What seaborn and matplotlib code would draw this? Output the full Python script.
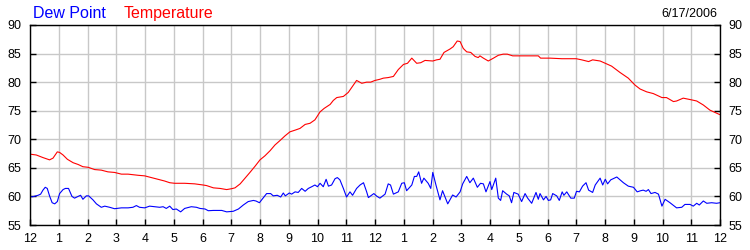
import matplotlib
matplotlib.use("Agg")
import matplotlib.pyplot as plt
import seaborn as sns

# ---- data (hours after midnight, degrees F) ----
temp_hours = [0, 0.22, 0.45, 0.68, 0.80, 0.95, 1.03, 1.15, 1.30, 1.50, 1.67, 1.84, 2.02, 2.25, 2.48, 2.71,
              2.94, 3.18, 3.41, 3.76, 3.99, 4.22, 4.45, 4.68, 4.86, 5.03, 5.38, 5.73, 6.02, 6.14, 6.38, 6.61,
              6.84, 7.01, 7.13, 7.31, 7.48, 7.65, 7.83, 8.0, 8.17, 8.35, 8.52, 8.70, 8.87, 9.04, 9.22, 9.39,
              9.57, 9.74, 9.91, 10.09, 10.23, 10.44, 10.55, 10.67, 10.90, 11.07, 11.25, 11.36, 11.54, 11.71,
              11.85, 12.0, 12.17, 12.29, 12.46, 12.64, 12.81, 12.99, 13.13, 13.28, 13.45, 13.59, 13.74, 14.01,
              14.14, 14.26, 14.40, 14.61, 14.72, 14.86, 14.96, 15.07, 15.19, 15.33, 15.48, 15.59, 15.65, 15.77,
              15.94, 16.12, 16.29, 16.46, 16.60, 16.79, 17.04, 17.68, 17.76, 18.09, 18.5, 19.0, 19.19, 19.43,
              19.57, 19.83, 20.01, 20.23, 20.52, 20.81, 21.04, 21.22, 21.45, 21.68, 21.98, 22.14, 22.38, 22.49,
              22.72, 23.01, 23.19, 23.42, 23.65, 24.0]
temp_values = [67.4, 67.25, 66.8, 66.4, 66.7, 67.8, 67.7, 67.25, 66.5, 65.9, 65.6, 65.2, 65.1, 64.7, 64.6, 64.3,
               64.2, 63.9, 63.9, 63.7, 63.6, 63.3, 63.0, 62.7, 62.4, 62.3, 62.3, 62.2, 62.0, 61.9, 61.5, 61.4,
               61.2, 61.35, 61.5, 62.2, 63.2, 64.2, 65.3, 66.4, 67.1, 68.0, 69.0, 69.8, 70.6, 71.3, 71.6, 71.9,
               72.6, 72.8, 73.4, 74.8, 75.4, 76.1, 76.8, 77.3, 77.5, 78.2, 79.5, 80.3, 79.8, 80.0,
               80.0, 80.3, 80.5, 80.7, 80.8, 81.0, 82.2, 83.1, 83.3, 84.2, 83.3, 83.4, 83.8, 83.7,
               83.9, 84.0, 85.2, 85.8, 86.2, 87.2, 87.1, 85.9, 85.3, 85.2, 84.5, 84.3, 84.6, 84.2,
               83.7, 84.2, 84.7, 84.9, 84.9, 84.6, 84.6, 84.6, 84.2, 84.2, 84.1, 84.1, 83.9, 83.6,
               83.9, 83.7, 83.3, 82.8, 81.7, 80.7, 79.5, 78.8, 78.3, 78.0, 77.3, 77.3, 76.6, 76.7,
               77.2, 76.9, 76.7, 76.0, 75.1, 74.3]

dew_hours = [0, 0.10, 0.28, 0.37, 0.45, 0.53, 0.60, 0.68, 0.77, 0.86, 0.95, 1.03, 1.15, 1.23, 1.34, 1.46,
             1.55, 1.67, 1.76, 1.84, 1.96, 2.04, 2.19, 2.31, 2.48, 2.60, 2.77, 2.94, 3.18, 3.41, 3.58, 3.70,
             3.81, 3.99, 4.16, 4.34, 4.51, 4.63, 4.74, 4.86, 4.97, 5.09, 5.24, 5.38, 5.61, 5.79, 5.91, 6.09,
             6.20, 6.38, 6.67, 6.84, 7.07, 7.25, 7.42, 7.59, 7.77, 7.86, 7.98, 8.12, 8.23, 8.37, 8.46, 8.60,
             8.72, 8.81, 8.88, 9.02, 9.10, 9.22, 9.33, 9.45, 9.57, 9.68, 9.80, 9.91, 10.0, 10.09, 10.20, 10.30,
             10.38, 10.49, 10.61, 10.69, 10.78, 10.90, 11.01, 11.13, 11.22, 11.36, 11.48, 11.60, 11.71, 11.77,
             11.88, 11.96, 12.06, 12.17, 12.35, 12.46, 12.54, 12.64, 12.81, 12.93, 13.02, 13.10, 13.28, 13.37,
             13.45, 13.52, 13.62, 13.70, 13.85, 13.94, 14.01, 14.12, 14.26, 14.35, 14.53, 14.70, 14.82, 14.96,
             15.05, 15.19, 15.30, 15.42, 15.56, 15.67, 15.77, 15.86, 16.00, 16.06, 16.20, 16.29, 16.37, 16.44,
             16.58, 16.67, 16.75, 16.83, 16.98, 17.10, 17.22, 17.31, 17.45, 17.60, 17.68, 17.74, 17.86, 17.95,
             18.03, 18.11, 18.18, 18.32, 18.41, 18.51, 18.57, 18.67, 18.81, 18.93, 19.01, 19.11, 19.22, 19.34,
             19.43, 19.57, 19.66, 19.83, 19.92, 20.01, 20.09, 20.20, 20.41, 20.64, 20.81, 20.99, 21.12, 21.24,
             21.33, 21.43, 21.51, 21.60, 21.74, 21.86, 21.98, 22.09, 22.26, 22.49, 22.67, 22.78, 22.96, 23.07,
             23.19, 23.28, 23.42, 23.54, 23.71, 23.88, 24.0]
dew_values = [59.95, 59.95, 60.2, 60.4, 61.1, 61.6, 61.4, 60.1, 58.9, 58.7, 59.1, 60.5, 61.2, 61.4, 61.4, 60.0,
              59.7, 60.0, 60.2, 59.5, 60.1, 60.1, 59.4, 58.7, 58.1, 58.3, 58.1, 57.85, 58.0, 58.0, 58.1, 58.4,
              58.1, 58.0, 58.3, 58.2, 58.1, 58.2, 57.9, 58.3, 57.7, 57.8, 57.3, 57.9, 58.2, 58.1, 57.9, 57.8,
              57.5, 57.55, 57.55, 57.3, 57.4, 57.8, 58.5, 59.1, 59.3, 59.2, 58.9, 59.8, 60.5, 60.5, 60.1, 60.2,
              59.9, 60.6, 60.1, 60.6, 60.4, 60.8, 60.7, 61.4, 60.9, 61.4, 61.7, 62.0, 61.7, 62.3, 61.7, 63.0,
              61.8, 62.0, 63.1, 63.3, 62.9, 61.4, 59.9, 60.8, 60.2, 61.4, 62.0, 62.4, 60.8, 59.8,
              60.2, 60.5, 60.05, 59.7, 60.4, 62.2, 62.0, 60.4, 60.8, 62.3, 62.4, 61.0, 62.0, 63.5,
              63.5, 64.3, 62.3, 63.2, 62.3, 61.4, 64.2, 62.0, 59.4, 61.0, 58.7, 60.25, 59.9, 60.8,
              62.2, 63.5, 62.4, 63.2, 61.6, 62.3, 62.2, 60.8, 62.6, 61.2, 63.2, 59.7, 59.3, 61.0,
              60.4, 60.1, 58.9, 60.7, 60.4, 59.1, 60.5, 59.7, 58.8, 60.7, 59.5, 60.5, 59.4, 60.0,
              59.3, 59.4, 60.5, 60.1, 59.3, 60.8, 60.2, 60.8, 59.7, 59.7, 60.9, 60.8, 61.8, 62.4,
              61.1, 60.7, 62.0, 63.2, 62.0, 63.0, 62.2, 62.9, 63.4, 62.4, 61.8, 61.6, 60.8, 61.0,
              61.1, 60.9, 61.2, 60.5, 60.7, 60.4, 58.3, 59.5, 58.9, 58.0, 58.1, 58.6, 58.6, 58.3,
              58.8, 58.5, 59.2, 58.8, 58.9, 58.8, 58.9]

hour_ticks = list(range(25))
hour_labels = ["12", "1", "2", "3", "4", "5", "6", "7", "8", "9", "10", "11",
               "12", "1", "2", "3", "4", "5", "6", "7", "8", "9", "10", "11", "12"]
y_ticks = [55, 60, 65, 70, 75, 80, 85, 90]
series_names = ["Dew Point", "Temperature"]
date_label = "6/17/2006"

# ---- drawing ----
sns.set_theme(style="white")
plt.rcParams['font.family'] = ['Liberation Sans', 'DejaVu Sans']

fig = plt.figure(figsize=(7.5, 2.5), dpi=100)
ax = fig.add_axes([30 / 750, 25 / 250, 690 / 750, 200 / 250])

sns.lineplot(x=dew_hours, y=dew_values, color="#0000ff", linewidth=0.8,
             estimator=None, sort=False, ax=ax)
sns.lineplot(x=temp_hours, y=temp_values, color="#ff0000", linewidth=0.8,
             estimator=None, sort=False, ax=ax)

ax.set_xlim(0, 24)
ax.set_ylim(55, 90)
ax.set_xticks(hour_ticks)
ax.set_xticklabels(hour_labels)
ax.set_yticks(y_ticks)
ax.set_yticklabels([str(v) for v in y_ticks])
ax.set_xlabel("")
ax.set_ylabel("")
ax.grid(True, color="#c8c8c8", linewidth=1.0)
ax.set_axisbelow(True)
ax.tick_params(axis="both", direction="in", length=4, width=1, color="black",
               labelsize=9, labelcolor="black")
ax.tick_params(axis="y", left=True, right=True, labelleft=True, labelright=True, pad=6)
ax.tick_params(axis="x", bottom=True, pad=6)
for s in ax.spines.values():
    s.set_color("black")
    s.set_linewidth(1.0)

fig.text(33 / 750, 1 - 18 / 250, series_names[0], color="#0000ff", fontsize=11.5, va="baseline")
fig.text(124 / 750, 1 - 18 / 250, series_names[1], color="#ff0000", fontsize=11.5, va="baseline")
fig.text(717 / 750, 1 - 17 / 250, date_label, color="black", fontsize=9, va="baseline", ha="right")

fig.savefig("out.png", dpi=100)
